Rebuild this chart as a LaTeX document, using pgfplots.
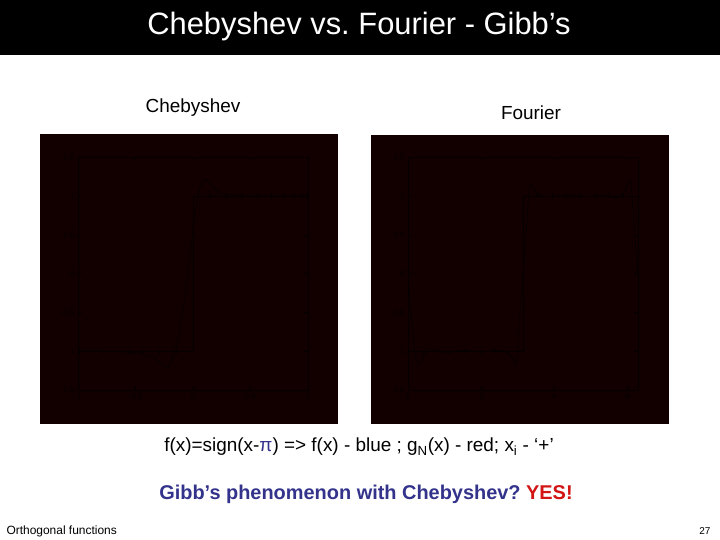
\documentclass[border=0pt]{standalone}
\usepackage{pgfplots}
\pgfplotsset{compat=1.18}
\usepackage{fontspec}
\setmainfont{Liberation Sans}
\frenchspacing
\definecolor{panelbg}{RGB}{18,0,1}
\definecolor{curvecol}{RGB}{4,0,0}
\definecolor{navyt}{RGB}{51,51,140}
\definecolor{redt}{RGB}{210,20,20}
\begin{document}
\begin{tikzpicture}
% slide
\fill[white] (0bp,0bp) rectangle (720bp,-540bp);
\fill[black] (0bp,0bp) rectangle (720bp,-55bp);
\node[white,font=\fontsize{31}{35}\selectfont] at (359bp,-27bp) {Chebyshev vs. Fourier - Gibb’s};
\node[black,font=\fontsize{19}{22}\selectfont] at (193bp,-108bp) {Chebyshev};
\node[black,font=\fontsize{19}{22}\selectfont] at (531bp,-113bp) {Fourier};
% panels
\fill[panelbg] (40bp,-134bp) rectangle (338bp,-424bp);
\fill[panelbg] (371bp,-135bp) rectangle (669bp,-424bp);
\pgfplotsset{
  panelstyle/.style={
    scale only axis, width=230bp, height=233bp,
    ymin=-1.5, ymax=1.5, ytick={-1.5,-1,-0.5,0,0.5,1,1.5},
    axis line style={curvecol, line width=0.4pt},
    tick style={curvecol},
    tick label style={curvecol, font=\fontsize{8}{9}\selectfont},
    /pgf/number format/assume math mode=true,
    clip=false,
  }
}
% Chebyshev
\begin{axis}[panelstyle, at={(78bp,-390bp)}, anchor=south west,
  xmin=-1, xmax=1, xtick={-1,-0.5,0,0.5,1}]
\addplot[curvecol, line width=0.4pt] coordinates {(-1,-1) (0,-1) (0,1) (1,1)};
\addplot[curvecol, line width=0.5pt, smooth] coordinates {
 (-1,-1) (-0.8,-1.0) (-0.6,-1.01) (-0.45,-1.03) (-0.35,-1.08) (-0.28,-1.15)
 (-0.24,-1.2) (-0.2,-1.17) (-0.14,-0.9) (-0.08,-0.4) (-0.03,0.2) (0.02,0.8)
 (0.07,1.15) (0.12,1.2) (0.18,1.1) (0.25,1.03) (0.4,1.0) (0.6,1.0) (0.8,1.0) (1,1)};
\addplot[curvecol, only marks, mark=+, mark size=2.5pt] coordinates {
 (-0.99,-1) (-0.95,-1) (-0.88,-1) (-0.79,-1) (-0.68,-1) (-0.56,-1) (-0.43,-1) (-0.29,-1)
 (-0.15,-1) (0.15,1) (0.29,1) (0.43,1) (0.56,1) (0.68,1) (0.79,1) (0.88,1) (0.95,1) (0.99,1)};
\end{axis}
% Fourier
\begin{axis}[panelstyle, at={(408bp,-390bp)}, anchor=south west,
  xmin=0, xmax=6.2832, xtick={0,2,4,6}]
\addplot[curvecol, line width=0.4pt] coordinates {(0,-1) (3.1416,-1) (3.1416,1) (6.2832,1)};
\addplot[curvecol, line width=0.5pt, smooth] coordinates {
 (0,0) (0.1,-0.6) (0.2,-1.05) (0.3,-1.18) (0.4,-1.1) (0.55,-0.97) (0.75,-0.98)
 (1.0,-1.02) (1.5,-0.99) (2.0,-1.01) (2.5,-0.99) (2.8,-1.05) (2.95,-1.15) (3.04,-0.6)
 (3.1416,0) (3.24,0.6) (3.33,1.15) (3.48,1.05) (3.8,0.99) (4.3,1.01) (4.8,0.99)
 (5.3,1.01) (5.75,0.98) (5.95,1.1) (6.08,1.18) (6.18,0.6) (6.2832,0)};
\addplot[curvecol, only marks, mark=+, mark size=2.5pt] coordinates {
 (0.39,-1) (0.79,-1) (1.18,-1) (1.57,-1) (1.96,-1) (2.36,-1) (2.75,-1) (3.1416,0)
 (3.53,1) (3.93,1) (4.32,1) (4.71,1) (5.11,1) (5.50,1) (5.89,1)};
\end{axis}
% bottom text
\node[black,font=\fontsize{19}{22}\selectfont] at (359bp,-447bp)
  {f(x)=sign(x-\textcolor{navyt}{π}) => f(x) - blue ; g\textsubscript{N}(x) - red; x\textsubscript{i} - ‘+’};
\node[navyt,font=\fontsize{20}{23}\selectfont\bfseries] at (366bp,-494bp)
  {Gibb’s phenomenon with Chebyshev? \textcolor{redt}{YES!}};
\node[black,anchor=west,font=\fontsize{12}{14}\selectfont] at (3bp,-531bp) {Orthogonal functions};
\node[black,anchor=east,font=\fontsize{10}{12}\selectfont] at (714bp,-531bp) {27};
\end{tikzpicture}
\end{document}
